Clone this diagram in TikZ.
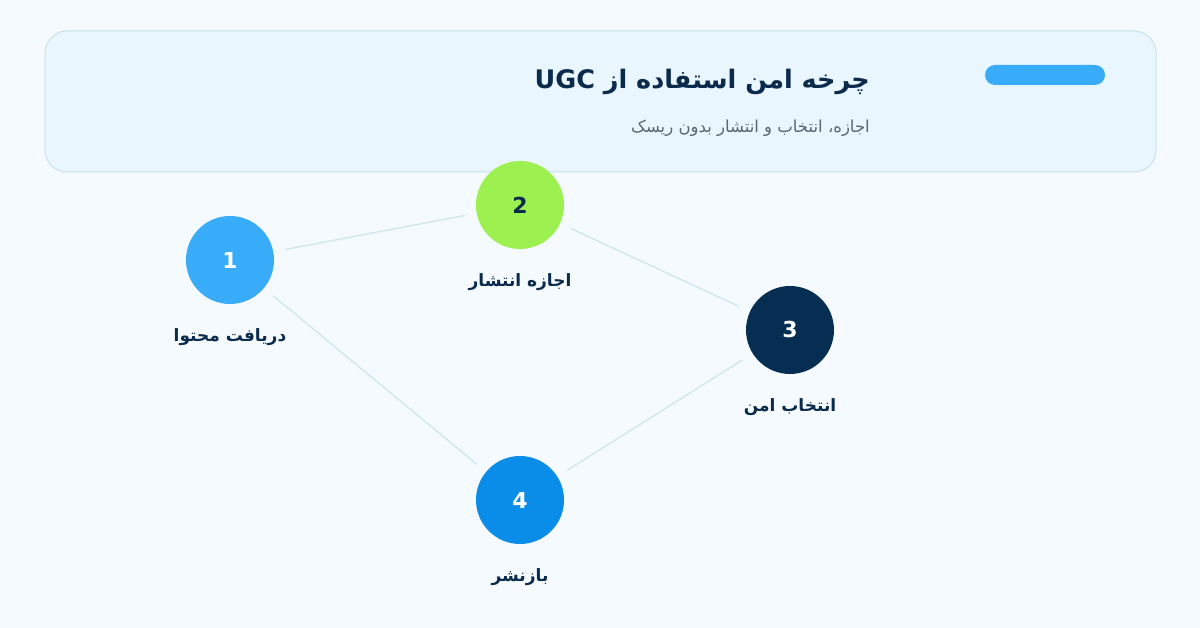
\documentclass[tikz,border=0pt]{standalone}
\usepackage{fontspec}
\setmainfont{DejaVu Sans}
\newfontfamily\arabicfont[Script=Arabic]{DejaVu Sans}
\TeXXeTstate=1
\usepackage{xcolor}
\usetikzlibrary{positioning}
\definecolor{pagebg}{HTML}{F4FAFD}
\definecolor{headfill}{HTML}{EAF6FD}
\definecolor{headline}{HTML}{C9E2EE}
\definecolor{navy}{HTML}{0B2B4C}
\definecolor{subgray}{HTML}{5B6672}
\definecolor{linkc}{HTML}{CDE5EC}
\definecolor{skyblue}{HTML}{38ABF9}
\definecolor{limegreen}{HTML}{9CF04F}
\definecolor{deepnavy}{HTML}{062E52}
\definecolor{midblue}{HTML}{0A8DE8}

\begin{document}
\begin{tikzpicture}[x=1pt,y=1pt,
    stage/.style={circle, minimum size=88pt, inner sep=0pt, font=\bfseries\fontsize{22}{22}\selectfont},
    stagelabel/.style={inner sep=0pt, text=navy, font=\arabicfont\bfseries\fontsize{17}{20}\selectfont},
    link/.style={draw=linkc, line width=1.2pt, shorten <=12pt, shorten >=12pt}]

      % page and header
      \useasboundingbox[fill=pagebg] (0,0) rectangle (1200,628);
      \draw[headline, fill=headfill, line width=1pt, rounded corners=22pt] (45,597) rectangle (1156,456);
      \fill[skyblue, rounded corners=10pt] (985,563) rectangle (1105,543);
      \node[anchor=east, inner sep=0pt, text=navy, font=\arabicfont\bfseries\fontsize{25.5}{30}\selectfont] (title) at (870,546)
        {\beginR چرخه امن استفاده از \beginL UGC\endL\endR};
      \node[anchor=east, inner sep=0pt, text=subgray, font=\arabicfont\fontsize{16.5}{18}\selectfont] (subtitle) at (870,500)
        {\beginR اجازه، انتخاب و انتشار بدون ریسک\endR};

      % stages
      \node[stage, fill=skyblue, text=white] (receive) at (230,368) {1};
      \node[stage, fill=limegreen, text=navy] (permit) at (520,423) {2};
      \node[stage, fill=deepnavy, text=white] (select) at (790,298) {3};
      \node[stage, fill=midblue, text=white] (repost) at (520,128) {4};
      \node[stagelabel, below=24pt of receive] (receivetxt) {\beginR دریافت محتوا\endR};
      \node[stagelabel, below=24pt of permit] (permittxt) {\beginR اجازه انتشار\endR};
      \node[stagelabel, below=24pt of select] (selecttxt) {\beginR انتخاب امن\endR};
      \node[stagelabel, below=24pt of repost] (reposttxt) {\beginR بازنشر\endR};

      % cycle
      \draw[link] (receive) -- (permit);
      \draw[link] (permit) -- (select);
      \draw[link] (select) -- (repost);
      \draw[link] (repost) -- (receive);
    \end{tikzpicture}
\end{document}
